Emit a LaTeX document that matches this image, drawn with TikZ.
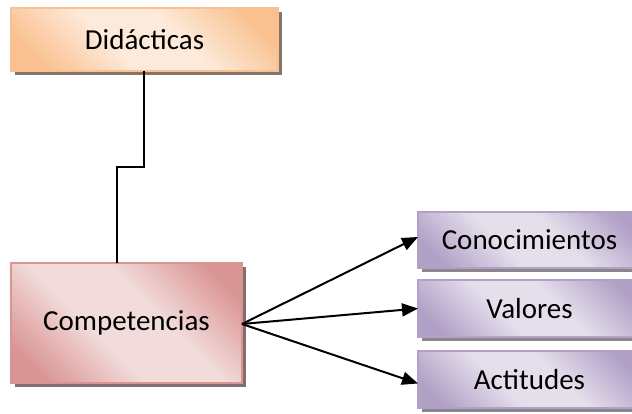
\documentclass[tikz,border=0pt]{standalone}
\usepackage{fontspec}
\setmainfont{Carlito}
\usetikzlibrary{shadows,arrows.meta}
\definecolor{orD}{HTML}{FAC08F}
\definecolor{orL}{HTML}{FDEADA}
\definecolor{orB}{HTML}{FAC090}
\definecolor{pkD}{HTML}{D99594}
\definecolor{pkL}{HTML}{F2DCDB}
\definecolor{pkB}{HTML}{D99594}
\definecolor{puD}{HTML}{B2A1C7}
\definecolor{puL}{HTML}{E5DFEC}
\definecolor{puB}{HTML}{B2A1C7}
\pgfdeclareverticalshading{orgrad}{100bp}{color(0bp)=(orD); color(22bp)=(orD); color(42bp)=(orL); color(58bp)=(orL); color(78bp)=(orD); color(100bp)=(orD)}
\pgfdeclareverticalshading{pkgrad}{100bp}{color(0bp)=(pkD); color(22bp)=(pkD); color(42bp)=(pkL); color(58bp)=(pkL); color(78bp)=(pkD); color(100bp)=(pkD)}
\pgfdeclareverticalshading{pugrad}{100bp}{color(0bp)=(puD); color(22bp)=(puD); color(42bp)=(puL); color(58bp)=(puL); color(78bp)=(puD); color(100bp)=(puD)}
\tikzset{
  box/.style={rectangle, anchor=north west, inner sep=0pt, outer sep=0pt,
    line width=1.2pt, font=\fontsize{29}{34}\selectfont},
  shd/.style={drop shadow={shadow xshift=4pt, shadow yshift=-4pt, fill=#1, opacity=1}},
  grad/.style={shade, shading=#1, shading angle=-45},
  orbox/.style={box, draw=orB, grad=orgrad, shd=gray!70!orD!80!black},
  pkbox/.style={box, draw=pkB, grad=pkgrad, shd=gray!60!pkD!80!black},
  pubox/.style={box, draw=puB, grad=pugrad, shd=gray!80!puD},
  link/.style={line width=2pt, black},
  arr/.style={line width=2pt, black, -{Triangle[length=16pt,width=13pt]}}
}
\begin{document}
\begin{tikzpicture}[x=1pt,y=-1pt]
\useasboundingbox (0,0) rectangle (632,414);
\clip (0,0) rectangle (632,414);
\node[orbox, minimum width=267pt, minimum height=63pt] (d) at (11,8) {Didácticas};
\node[pkbox, minimum width=231pt, minimum height=120pt] (c) at (11,263) {Competencias};
\node[pubox, minimum width=223pt, minimum height=56pt] (k) at (418,212) {Conocimientos};
\node[pubox, minimum width=223pt, minimum height=57pt] (v) at (418,280) {Valores};
\node[pubox, minimum width=223pt, minimum height=57pt] (a) at (418,351) {Actitudes};
\coordinate (j1) at (144,167);
\coordinate (j2) at (117,167);
\coordinate (src) at (242,324);
\draw[link] (d.south -| j1) -- (j1) -- (j2) -- (c.north -| j2);
\draw[arr] (src) -- ([yshift=3pt]k.west);
\draw[arr] (src) -- (v.west);
\draw[arr] (src) -- ([yshift=-4pt]a.west);
\end{tikzpicture}
\end{document}
